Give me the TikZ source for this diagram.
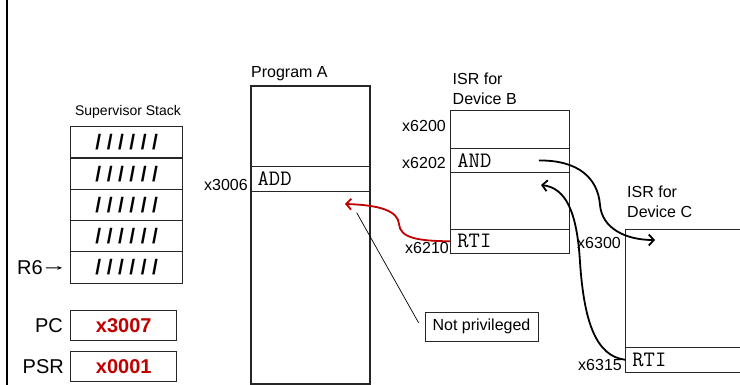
\documentclass[tikz,border=0pt]{standalone}
\usepackage{fontspec}
\setmainfont{Liberation Sans}
\usetikzlibrary{arrows.meta}
\definecolor{pcred}{HTML}{C00000}
\newcommand{\junk}{\textbf{/\kern5.5pt/\kern5.5pt/\kern5.5pt/\kern5.5pt/\kern5.5pt/}}
\tikzset{
  mem/.style  = {rectangle, draw=black!85, line width=1.1pt, inner sep=0},
  cell/.style = {mem, minimum width=112pt, minimum height=31.3pt, font=\fontsize{21}{21}\selectfont},
  reg/.style  = {mem, minimum width=106pt, minimum height=30pt, text=pcred, font=\bfseries\fontsize{20}{20}\selectfont},
  lbl/.style  = {font=\fontsize{16}{20}\selectfont, inner sep=1pt, align=left},
  big/.style  = {font=\fontsize{20}{24}\selectfont, inner sep=1pt},
  code/.style = {font=\ttfamily\fontsize{22}{22}\selectfont, inner sep=1pt},
  flow/.style = {line width=1.8pt, -{Straight Barb[length=5pt,width=11pt]}}
}
\begin{document}
\begin{tikzpicture}[x=1pt, y=-1pt]
  \useasboundingbox (0,0) rectangle (740,385);
  \clip (0,0) rectangle (740,385);
  \draw[line width=2.5pt] (7,0) -- (7,385);

  \node[lbl, font=\fontsize{14}{14}\selectfont] (sst) at (128,112) {Supervisor Stack};
  \foreach \i in {1,...,5} \node[cell] (s\i) at (126.7,{111.05+31.3*\i}) {\junk};
  \node[big, anchor=east] (r6) at (44,268) {R6}; \draw[-{Stealth[length=5pt]}, line width=1pt, shorten <=2pt, shorten >=8pt] (r6) -- (s5);
  \node[reg] (pc)  at (123.7,325.3) {x3007}; \node[big, anchor=east] at (64,325.3) {PC};
  \node[reg] (psr) at (123.7,366.7) {x0001}; \node[big, anchor=east] at (65,366.7) {PSR};

  \node[mem, minimum width=119pt, minimum height=298pt] (progA) at (310.5,235) {};
  \node[lbl, anchor=west] at (250,74) {Program A};
  \node[mem, minimum width=119pt, minimum height=24.6pt] (add) at (310.5,179) {}; \node[code, right] at ([xshift=6pt]add.west) {ADD};
  \node[lbl, anchor=east] at (249,185) {x3006};

  \node[mem, minimum width=118.6pt, minimum height=142.6pt] (isrB) at (510,182) {};
  \node[lbl, anchor=north west] at (451.5,72) {ISR for\\Device B};
  \node[mem, minimum width=118.6pt, minimum height=24.4pt] (andB) at (510,160.5) {}; \node[code, right] at ([xshift=6pt]andB.west) {AND};
  \node[mem, minimum width=118.6pt, minimum height=24pt] (rtiB) at (510,241.3) {}; \node[code, right] at ([xshift=6pt]rtiB.west) {RTI};
  \node[lbl, anchor=east] at (447,126) {x6200};
  \node[lbl, anchor=east] at (447,162.7) {x6202};
  \node[lbl, anchor=east] at (450,248.3) {x6210};

  \node[mem, minimum width=150pt, minimum height=143pt] (isrC) at (700.7,300.8) {};
  \node[lbl, anchor=north west] at (626,184.5) {ISR for\\Device C};
  \node[mem, minimum width=150pt, minimum height=25pt] (rtiC) at (700.7,359.8) {}; \node[code, right] at ([xshift=6pt]rtiC.west) {RTI};
  \node[lbl, anchor=east] at (622,243.3) {x6300};
  \node[lbl, anchor=east] at (623,365) {x6315};

  \node[mem, line width=0.8pt, minimum width=113pt, minimum height=28.3pt, font=\fontsize{16}{16}\selectfont] (np) at (481.5,326.8) {Not privileged};

  \coordinate (retA)   at (345,204);
  \coordinate (npA)    at (356.7,212.7);
  \coordinate (goC)    at (655,240);
  \coordinate (retB)   at (541,185);

  \draw[flow, pcred] (rtiB.west) .. controls (418,241) and (400,238) .. (399,224) .. controls (398,211) and (380,205) .. (retA);
  \draw[line width=0.7pt] (npA) -- ([shift={(-6pt,4pt)}]np.west);
  \draw[flow] ([xshift=-31pt]andB.east) .. controls (578,160) and (598,178) .. (600,205) .. controls (602,228) and (625,240) .. (goC);
  \draw[flow] (rtiC.west) .. controls (596,356) and (584,322) .. (580,262) .. controls (577,212) and (566,188) .. (retB);
\end{tikzpicture}
\end{document}
